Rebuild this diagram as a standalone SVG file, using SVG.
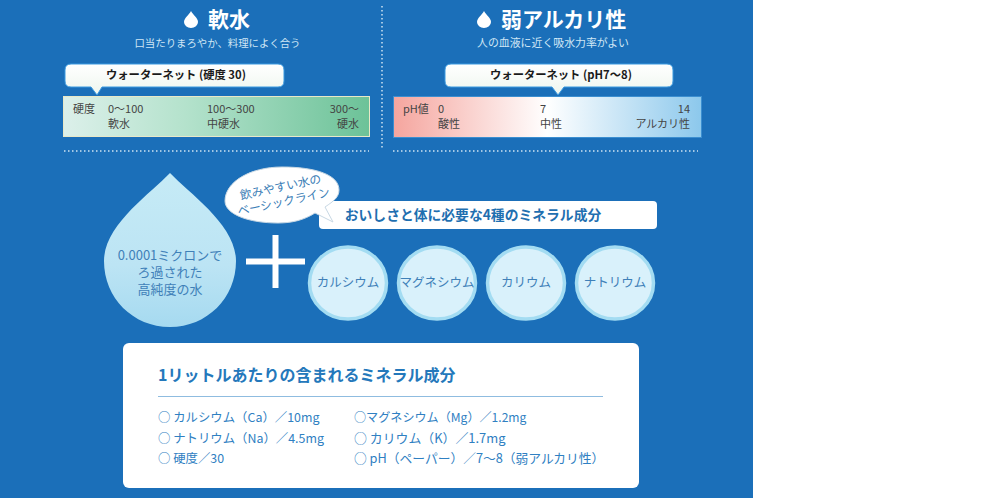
<svg xmlns="http://www.w3.org/2000/svg" width="1000" height="498" viewBox="0 0 1000 498">
<defs>
<style>
text{font-family:"Noto Sans CJK JP","Noto Sans",sans-serif}
.h{font-size:21px;font-weight:700;fill:#fff}
.sub{font-size:10.4px;fill:#cfe6f5;text-anchor:middle}
.call{font-size:11.3px;font-weight:700;fill:#1a1a1a;text-anchor:middle}
.bar{font-size:11px;fill:#444}
.e{text-anchor:end}
.min{font-size:12.5px;fill:#3f80b8;text-anchor:middle}
.li{font-size:12.4px;fill:#2f80c2}
.dot{fill:none;stroke:#cfe3f2;stroke-width:1.5;stroke-dasharray:1.5 2.5}
.wb{stroke:#3b9ae0;stroke-width:1}
.circ{fill:#d9f1fb;stroke:#a3dcf2;stroke-width:3.500}
.wd{fill:#fff}
</style>
<linearGradient id="g1"><stop offset="0" stop-color="#dcf0ea"/><stop offset=".4" stop-color="#b4e2cc"/><stop offset="1" stop-color="#6cc298"/></linearGradient>
<linearGradient id="g2"><stop offset="0" stop-color="#f5a59e"/><stop offset=".5" stop-color="#fff"/><stop offset="1" stop-color="#8cc8ec"/></linearGradient>
<linearGradient id="g3" x1="0" y1="0" x2="0" y2="1"><stop offset="0" stop-color="#ffffff"/><stop offset="1" stop-color="#eef6ee"/></linearGradient>
<linearGradient id="g4" x1="0" y1="0" x2="0" y2="1"><stop offset="0" stop-color="#c6ebf6"/><stop offset=".6" stop-color="#bce4f4"/><stop offset="1" stop-color="#a6daf0"/></linearGradient>
<path id="d" d="M0-9C2-5 7-2 7 2A7 6 0 0 1-7 2C-7-2-2-5 0-9Z"/>
</defs>
<rect width="753" height="498" fill="#1b6fb9"/>
<g id="dividers">
<path class="dot" d="M382 6V148M64 151H369M393 151H698"/>
</g>
<g id="soft">
<use href="#d" class="wd" x="191" y="20"/>
<text class="h" x="208" y="27">軟水</text>
<text class="sub" x="217.500" y="47">口当たりまろやか、料理によく合う</text>
</g>
<g id="alkaline">
<use href="#d" class="wd" x="484" y="20"/>
<text class="h" x="501" y="27">弱アルカリ性</text>
<text class="sub" x="553" y="47" style="font-size:10.9px">人の血液に近く吸水力率がよい</text>
</g>
<g id="hardness">
<rect x="63.500" y="96.500" width="306" height="40" fill="url(#g1)" stroke="#e8e8c8" stroke-width="1"/>
<path class="wb" d="M71 64H278Q284 64 284 70V81Q284 87 278 87H102L97 95L91 87H71Q65 87 65 81V70Q65 64 71 64Z" style="fill:url(#g3)"/>
<text class="call" x="176" y="79">ウォーターネット (硬度 30)</text>
<text class="bar" x="73" y="113">硬度</text><text class="bar" x="108" y="113">0～100</text><text class="bar" x="207" y="113">100～300</text><text class="bar e" x="359" y="113">300～</text>
<text class="bar" x="108" y="128">軟水</text><text class="bar" x="207" y="128">中硬水</text><text class="bar e" x="359" y="128">硬水</text>
</g>
<g id="ph">
<rect x="393.500" y="96.500" width="308" height="41" fill="url(#g2)" stroke="#3b8ed0" stroke-width="1"/>
<path class="wb" d="M451 64H667Q673 64 673 70V81Q673 87 667 87H564L558 95L552 87H451Q445 87 445 81V70Q445 64 451 64Z" style="fill:url(#g3)"/>
<text class="call" x="561" y="79">ウォーターネット (pH7～8)</text>
<text class="bar" x="403" y="113">pH値</text><text class="bar" x="438" y="113">0</text><text class="bar" x="540" y="113">7</text><text class="bar e" x="690" y="113">14</text>
<text class="bar" x="438" y="128">酸性</text><text class="bar" x="540" y="128">中性</text><text class="bar e" x="690" y="128">アルカリ性</text>
</g>
<g id="drop">
<path d="M170 173C190 194 236 225 236 261C236 298 207 327 170 327C133 327 104 298 104 261C104 225 150 194 170 173Z" fill="url(#g4)"/>
<text class="min" x="170" y="260" style="font-size:13px">0.0001ミクロンで</text>
<text class="min" x="170" y="277" style="font-size:13px">ろ過された</text>
<text class="min" x="170" y="294" style="font-size:13px">高純度の水</text>
</g>
<g id="plus"><path d="M246 261.500H305M275.500 235V288" stroke="#fff" stroke-width="6" fill="none"/></g>
<g id="title-bar">
<rect x="319" y="201" width="338" height="28" rx="4" fill="#fff"/>
<text x="473" y="220" font-size="13.800" font-weight="700" fill="#1f6fb0" text-anchor="middle">おいしさと体に必要な4種のミネラル成分</text>
</g>
<g id="bubble">
<path d="M282 167C316 167 339 175 339 190C339 197 334 201 325 207L333 222L315 213C304 220 292 223 278 223C248 223 225 214 225 201C225 182 250 167 282 167Z" fill="#fff" stroke="#c8d8e4" stroke-width="1"/>
<g transform="rotate(-12 282 194)" font-size="11.800" fill="#3a7db5" text-anchor="middle">
<text x="282" y="191">飲みやすい水の</text><text x="282" y="206">ベーシックライン</text></g>
</g>
<g id="ca"><ellipse class="circ" cx="348" cy="283" rx="38.500" ry="36"/><text class="min" x="348" y="287">カルシウム</text></g>
<g id="mg"><ellipse class="circ" cx="437" cy="283" rx="38.500" ry="36"/><text class="min" x="437" y="287">マグネシウム</text></g>
<g id="k"><ellipse class="circ" cx="526" cy="283" rx="38.500" ry="36"/><text class="min" x="526" y="287">カリウム</text></g>
<g id="na"><ellipse class="circ" cx="615" cy="283" rx="38.500" ry="36"/><text class="min" x="615" y="287">ナトリウム</text></g>
<g id="panel">
<rect x="123" y="343" width="516" height="145" rx="6" fill="#fff"/>
<text x="158" y="381" font-size="16" font-weight="700" fill="#2478bb">1リットルあたりの含まれるミネラル成分</text>
<path d="M158 396.500H603" stroke="#8fbce0" stroke-width="1"/>
<text class="li" x="158" y="421.500">○ カルシウム（Ca）／10mg</text>
<text class="li" x="158" y="442.500">○ ナトリウム（Na）／4.5mg</text>
<text class="li" x="158" y="463">○ 硬度／30</text>
<text class="li" x="354" y="421.500" style="font-size:12.1px">○マグネシウム（Mg）／1.2mg</text>
<text class="li" x="354" y="442.500" style="font-size:12.9px">○ カリウム（K）／1.7mg</text>
<text class="li" x="354" y="463" style="font-size:12.75px">○ pH（ペーパー）／7～8（弱アルカリ性）</text>
</g>
</svg>
